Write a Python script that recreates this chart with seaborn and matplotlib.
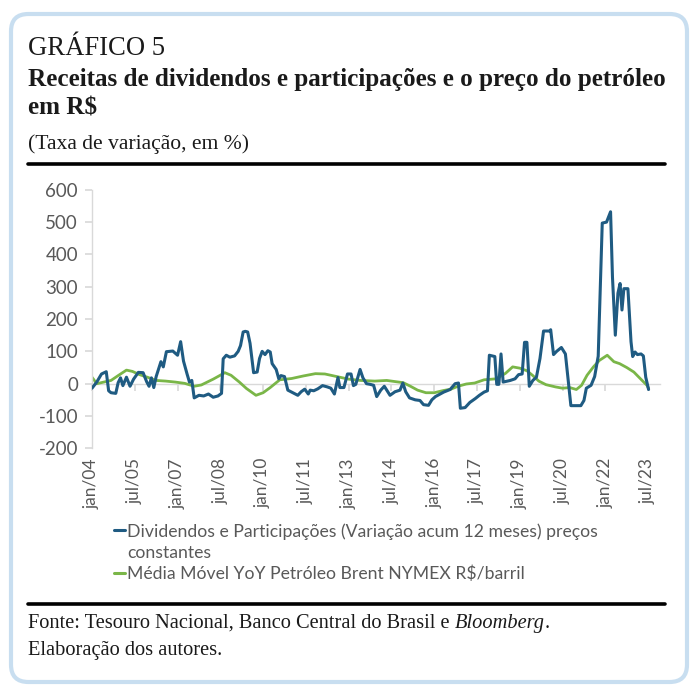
import numpy as np
import pandas as pd
import seaborn as sns
import matplotlib.pyplot as plt
from matplotlib.patches import FancyBboxPatch
from matplotlib.lines import Line2D

# ---------------- data ----------------
tick_labels = ["jan/04", "jul/05", "jan/07", "jul/08", "jan/10", "jul/11", "jan/13",
               "jul/14", "jan/16", "jul/17", "jan/19", "jul/20", "jan/22", "jul/23"]
tick_months = [0, 18, 36, 54, 72, 90, 108, 126, 144, 162, 180, 198, 216, 234]

div_month = [0, 2, 4, 6, 7, 8, 10, 11, 12, 13, 14.5, 16, 17.5, 19.5, 21.5, 23, 24, 25, 26, 27,
             28, 29, 30, 31.3, 34, 36, 37.3, 38.5, 40, 41, 42, 43, 45, 47, 49, 51, 53, 54.5,
             55.2, 56.5, 58, 60, 61.5, 62.5, 63.6, 64.5, 65.5, 66.5, 68, 69.5, 70.5, 71.6,
             72.8, 74, 75, 75.8, 77.5, 78.6, 79.5, 81, 82.4, 84, 86.6, 88, 89.5, 91, 91.8,
             93.3, 95, 97, 99, 100.5, 102, 103.5, 104.3, 106, 107.5, 109, 110, 111, 112.8,
             114, 115.5, 117, 118.5, 119.8, 121.5, 123, 125.4, 127.5, 129.6, 130.8, 132,
             133.6, 136, 138, 139.5, 141.6, 143, 144.5, 146, 148, 150.7, 152.8, 154.2, 155,
             157, 159, 161.3, 163, 165, 166.4, 167.2, 169.5, 170.3, 171.2, 172.1, 173, 176,
             178, 179.5, 181, 182, 183, 184, 185.5, 187, 188.5, 190, 192.5, 193, 194.2,
             195.5, 197.5, 199.2, 201.5, 205.7, 207, 208, 210, 211.5, 213, 214.7, 216.5,
             218.2, 219, 220.2, 221.3, 222.2, 223, 223.8, 225.5, 226.8, 227.5, 228.5,
             229.5, 231, 232, 233, 234.2]
div_value = [-14, 5, 30, 37, -22, -28, -30, 3, 18, -6, 20, -8, 14, 35, 34, 6, -8, 18, -12, 22,
             45, 68, 52, 99, 101, 88, 130, 70, 30, 5, 10, -44, -36, -38, -32, -42, -38, -30,
             77, 88, 82, 86, 100, 118, 160, 162, 160, 125, 34, 36, 78, 100,
             90, 102, 98, 62, 44, 15, 25, 22, -20, -26, -36, -25, -17, -32, -20,
             -22, -16, -6, -10, -14, -32, 19, -12, -12, 30, 30, -6, -2, 44,
             18, 0, -2, -5, -40, -20, -8, -36, -25, -20, 2, -25,
             -44, -50, -52, -65, -67, -50, -40, -34, -26, -18, 0, 2, -76,
             -74, -58, -46, -36, -26, -22, 88, 84, -2, -2, 92, 5, 10,
             15, 28, 30, 128, 128, -8, 10, 20, 78, 163, 163, 167, 90,
             100, 112, 92, -68, -68, -52, -14, -5, 22, 85, 497, 500,
             532, 330, 150, 280, 310, 228, 294, 294, 130, 84, 98,
             90, 92, 86, 20, -18]

oil_month = [0, 2, 5, 8, 11, 14.5, 17, 20, 23.3, 27, 31, 35, 39, 43, 46, 51, 55.9, 58.5, 62, 65,
             69, 72, 75, 79, 84, 89, 94, 98, 103, 108, 113, 119, 124, 128, 131, 134, 137,
             140.5, 144, 148, 151, 154, 157.5, 161, 165, 170, 174, 177, 180, 183, 185.5,
             188, 191, 195, 198, 201, 203.8, 206, 208.3, 211, 213.5, 216.8, 219.6, 222,
             225, 228, 230.8, 233.5, 234.2]
oil_value = [20, 0, 5, 10, 25, 42, 38, 28, 20, 10, 8, 5, 1, -8, -4, 14, 34, 26, 5, -15,
             -36, -28, -12, 12, 16, 24, 31, 30, 22, 14, 10, 8, 10, 6, 3, -8, -20,
             -28, -28, -21, -17, -8, -1, 2, 12, 15, 32, 52, 48, 40, 25,
             8, -3, -10, -14, -12, -18, -5, 26, 52, 72, 88, 68, 62,
             50, 36, 15, -5, -15]

name_div = "Dividendos e Participações (Variação acum 12 meses) preços"
name_div2 = "constantes"
name_oil = "Média Móvel YoY Petróleo Brent NYMEX R$/barril"
colors = {name_div: "#1f5b82", name_oil: "#7ab648"}

df = pd.concat([
    pd.DataFrame({"mes": div_month, "valor": div_value, "serie": name_div}),
    pd.DataFrame({"mes": oil_month, "valor": oil_value, "serie": name_oil}),
], ignore_index=True)

# ---------------- figure ----------------
sns.set_theme(style="white")
plt.rcParams["font.family"] = ["Lato", "DejaVu Sans"]
plt.rcParams["axes.unicode_minus"] = False

W, H = 695, 693
fig = plt.figure(figsize=(W / 100, H / 100), dpi=100)
fig.patch.set_facecolor("white")

box = FancyBboxPatch((11 / W, 1 - 682 / H), 676 / W, 668 / H,
                     boxstyle="round,pad=0,rounding_size=0.025",
                     transform=fig.transFigure, fc="white", ec="#c8def0", lw=3, zorder=-5)
fig.add_artist(box)

ax = fig.add_axes([92 / W, 1 - 448.3 / H, (660 - 92) / W, (448.3 - 189.8) / H])
ax.patch.set_alpha(0)

sns.lineplot(data=df, x="mes", y="valor", hue="serie", palette=colors,
             estimator=None, sort=True, linewidth=2.2, legend=False, ax=ax)
for ln in ax.get_lines():
    if ln.get_color() == colors[name_oil]:
        ln.set_zorder(2)
        ln.set_linewidth(2.0)
    else:
        ln.set_zorder(3)

grey = "#d9d9d9"
lab = "#595959"
ax.set_xlim(0, 239)
ax.set_ylim(-200, 600)
ax.set_yticks(range(-200, 601, 100))
ax.set_xticks(tick_months)
ax.set_xticklabels(tick_labels, rotation=90)
ax.set_xlabel("")
ax.set_ylabel("")
for s in ["top", "right", "bottom"]:
    ax.spines[s].set_visible(False)
ax.spines["left"].set_color(grey)
ax.spines["left"].set_linewidth(1)
ax.tick_params(axis="y", length=5, color=grey, labelsize=13.5, labelcolor=lab, pad=5, left=True)
ax.tick_params(axis="x", length=0, labelsize=12.5, labelcolor=lab, pad=7)

# horizontal axis crossing at zero
sec = ax.secondary_xaxis(0.25)
sec.set_xticks(tick_months)
sec.tick_params(axis="x", length=5, color=grey, labelbottom=False, direction="out")
sec.spines["bottom"].set_color(grey)
sec.spines["bottom"].set_linewidth(1)

# legend (wrapped first entry: second line without a marker)
handles = [Line2D([], [], color=colors[name_div], lw=2.2),
           Line2D([], [], color="none", lw=0),
           Line2D([], [], color=colors[name_oil], lw=2.2)]
leg = fig.legend(handles, [name_div, name_div2, name_oil], loc="upper left",
                 bbox_to_anchor=(114 / W, 1 - 523 / H), frameon=False,
                 handlelength=0.6, handletextpad=0.15, labelspacing=0.28,
                 fontsize=12.7, labelcolor=lab, borderaxespad=0, borderpad=0)

# ---------------- titles ----------------
serif = ["Liberation Serif", "DejaVu Serif"]


def put(x, y, s, size, **kw):
    return fig.text(x / W, 1 - y / H, s, fontsize=size, va="baseline", ha="left",
                    family=serif, color="#1a1a1a", **kw)


t1 = put(28, 55, "GRÁFICO 5", 18)
t2 = put(28, 86, "Receitas de dividendos e participações e o preço do petróleo", 17,
         fontweight="bold")
t3 = put(28, 114, "em R$", 17, fontweight="bold")
t4 = put(28, 149, "(Taxa de variação, em %)", 16)
fig.add_artist(Line2D([28 / W, 665 / W], [1 - 164 / H] * 2, color="black", lw=2.6))
fig.add_artist(Line2D([28 / W, 665 / W], [1 - 604 / H] * 2, color="black", lw=2.6))

f1 = put(28, 628, "Fonte: Tesouro Nacional, Banco Central do Brasil e ", 13.5)
f3 = put(28, 655, "Elaboração dos autores.", 13.5)

fig.canvas.draw()
r = fig.canvas.get_renderer()


def fit(t, width):
    w = t.get_window_extent(r).width
    t.set_fontsize(t.get_fontsize() * width / w)


fit(t1, 137)
fit(t2, 637)
t3.set_fontsize(t2.get_fontsize())
fit(t4, 222)
fit(f3, 194)
f1.set_fontsize(f3.get_fontsize())
fig.canvas.draw()
wpx = f1.get_window_extent(r).x1
f2 = fig.text(wpx / W, 1 - 628 / H, "Bloomberg", fontsize=f3.get_fontsize(), va="baseline",
              ha="left", family=serif, style="italic", color="#1a1a1a")
fig.canvas.draw()
wpx2 = f2.get_window_extent(r).x1
fig.text(wpx2 / W, 1 - 628 / H, ".", fontsize=f3.get_fontsize(), va="baseline",
         ha="left", family=serif, color="#1a1a1a")

fig.savefig("out.png", dpi=100, facecolor="white")
